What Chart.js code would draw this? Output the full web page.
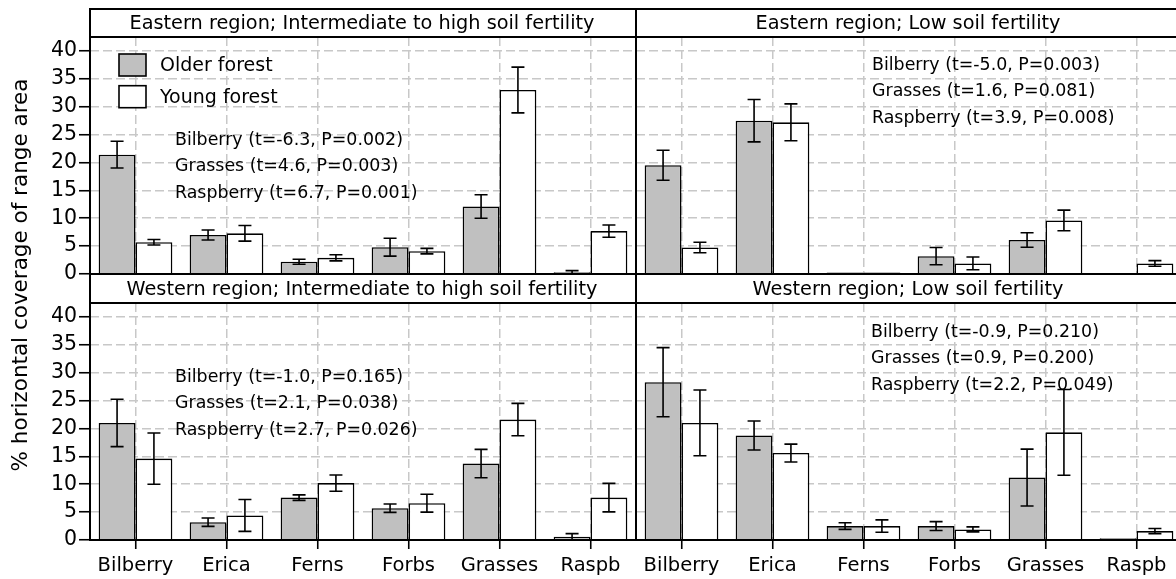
<!DOCTYPE html>
<html>
<head>
<meta charset="utf-8">
<title>Ground vegetation cover by forest age</title>
<script src="https://cdn.jsdelivr.net/npm/chart.js@4.4.1/dist/chart.umd.min.js"></script>
<style>
  html, body { margin: 0; padding: 0; background: #fff; overflow: hidden; }
  #stage { position: relative; width: 1176px; height: 579px; overflow: hidden; }
  .panel { position: absolute; left: 0; top: 0; width: 1190px; height: 579px; }
</style>
</head>
<body>
<div id="stage">
  <div class="panel"><canvas id="eastHigh"></canvas></div>
  <div class="panel"><canvas id="eastLow"></canvas></div>
  <div class="panel"><canvas id="westHigh"></canvas></div>
  <div class="panel"><canvas id="westLow"></canvas></div>
</div>
<script>
const CATEGORIES = ['Bilberry', 'Erica', 'Ferns', 'Forbs', 'Grasses', 'Raspb'];
const SERIES_LABELS = ['Older forest', 'Young forest'];
const Y_TICKS = [0, 5, 10, 15, 20, 25, 30, 35, 40];
const Y_TITLE = '% horizontal coverage of range area';

// Eastern region, intermediate to high soil fertility
const EAST_HIGH_OLDER = [21.4, 7.0, 2.2, 4.8, 12.1, 0.3];
const EAST_HIGH_OLDER_SE = [2.4, 0.9, 0.45, 1.6, 2.1, 0.3];
const EAST_HIGH_YOUNG = [5.7, 7.3, 2.9, 4.1, 33.0, 7.7];
const EAST_HIGH_YOUNG_SE = [0.5, 1.4, 0.55, 0.5, 4.1, 1.1];
const EAST_HIGH_TESTS = ['Bilberry (t=-6.3, P=0.002)', 'Grasses (t=4.6, P=0.003)', 'Raspberry (t=6.7, P=0.001)'];

// Eastern region, low soil fertility
const EAST_LOW_OLDER = [19.5, 27.5, 0.25, 3.2, 6.1, 0.1];
const EAST_LOW_OLDER_SE = [2.7, 3.8, 0, 1.55, 1.3, 0];
const EAST_LOW_YOUNG = [4.75, 27.2, 0.25, 1.9, 9.6, 1.9];
const EAST_LOW_YOUNG_SE = [0.95, 3.3, 0, 1.15, 1.85, 0.5];
const EAST_LOW_TESTS = ['Bilberry (t=-5.0, P=0.003)', 'Grasses (t=1.6, P=0.081)', 'Raspberry (t=3.9, P=0.008)'];

// Western region, intermediate to high soil fertility
const WEST_HIGH_OLDER = [21.0, 3.2, 7.6, 5.7, 13.7, 0.6];
const WEST_HIGH_OLDER_SE = [4.25, 0.75, 0.5, 0.75, 2.55, 0.55];
const WEST_HIGH_YOUNG = [14.6, 4.4, 10.2, 6.6, 21.6, 7.6];
const WEST_HIGH_YOUNG_SE = [4.6, 2.85, 1.45, 1.6, 2.9, 2.55];
const WEST_HIGH_TESTS = ['Bilberry (t=-1.0, P=0.165)', 'Grasses (t=2.1, P=0.038)', 'Raspberry (t=2.7, P=0.026)'];

// Western region, low soil fertility
const WEST_LOW_OLDER = [28.3, 18.75, 2.5, 2.5, 11.2, 0.3];
const WEST_LOW_OLDER_SE = [6.2, 2.6, 0.6, 0.8, 5.1, 0];
const WEST_LOW_YOUNG = [21.0, 15.6, 2.5, 1.9, 19.3, 1.6];
const WEST_LOW_YOUNG_SE = [5.9, 1.6, 1.1, 0.45, 7.7, 0.45];
const WEST_LOW_TESTS = ['Bilberry (t=-0.9, P=0.210)', 'Grasses (t=0.9, P=0.200)', 'Raspberry (t=2.2, P=0.049)'];

const CANVAS_W = 1190;
const CANVAS_H = 579;
const FONT = "'DejaVu Sans', Verdana, sans-serif";
const GRID = '#c8c8c8';
const CAP = 6.5;
const Y_MAX = 42.5;

Chart.defaults.font.family = FONT;
Chart.defaults.color = '#000';

const PANELS = [
    {
        id: 'eastHigh', title: 'Eastern region; Intermediate to high soil fertility',
        older: EAST_HIGH_OLDER, olderSe: EAST_HIGH_OLDER_SE, young: EAST_HIGH_YOUNG, youngSe: EAST_HIGH_YOUNG_SE,
        tests: EAST_HIGH_TESTS, testsAt: { x: 85, y: 103 },
        rect: { left: 90, right: 636, top: 37, bottom: 274 }, stripTop: 9,
        yLabels: true, xLabels: false, legend: true, yTitle: false
    },
    {
        id: 'eastLow', title: 'Eastern region; Low soil fertility',
        older: EAST_LOW_OLDER, olderSe: EAST_LOW_OLDER_SE, young: EAST_LOW_YOUNG, youngSe: EAST_LOW_YOUNG_SE,
        tests: EAST_LOW_TESTS, testsAt: { x: 236, y: 28 },
        rect: { left: 636, right: 1182, top: 37, bottom: 274 }, stripTop: 9,
        yLabels: false, xLabels: false, legend: false, yTitle: false
    },
    {
        id: 'westHigh', title: 'Western region; Intermediate to high soil fertility',
        older: WEST_HIGH_OLDER, olderSe: WEST_HIGH_OLDER_SE, young: WEST_HIGH_YOUNG, youngSe: WEST_HIGH_YOUNG_SE,
        tests: WEST_HIGH_TESTS, testsAt: { x: 85, y: 74 },
        rect: { left: 90, right: 636, top: 303, bottom: 540 }, stripTop: 274,
        yLabels: true, xLabels: true, legend: false, yTitle: true
    },
    {
        id: 'westLow', title: 'Western region; Low soil fertility',
        older: WEST_LOW_OLDER, olderSe: WEST_LOW_OLDER_SE, young: WEST_LOW_YOUNG, youngSe: WEST_LOW_YOUNG_SE,
        tests: WEST_LOW_TESTS, testsAt: { x: 235, y: 29 },
        rect: { left: 636, right: 1182, top: 303, bottom: 540 }, stripTop: 274,
        yLabels: false, xLabels: true, legend: false, yTitle: false
    }
];

// mean +/- SE whiskers on top of each bar
const errorBars = {
    id: 'errorBars',
    afterDatasetsDraw(chart) {
        const ctx = chart.ctx;
        const y = chart.scales.y;
        ctx.save();
        ctx.strokeStyle = '#000';
        ctx.lineWidth = 1.6;
        chart.data.datasets.forEach((ds, di) => {
            chart.getDatasetMeta(di).data.forEach((bar, i) => {
                const e = ds.errors[i];
                if (!e) return;
                const top = y.getPixelForValue(ds.data[i] + e);
                const bot = y.getPixelForValue(Math.max(0, ds.data[i] - e));
                ctx.beginPath();
                ctx.moveTo(bar.x, top); ctx.lineTo(bar.x, bot);
                ctx.moveTo(bar.x - CAP, top); ctx.lineTo(bar.x + CAP, top);
                ctx.moveTo(bar.x - CAP, bot); ctx.lineTo(bar.x + CAP, bot);
                ctx.stroke();
            });
        });
        ctx.restore();
    }
};

// title strip, panel frame, t-test notes, legend and the shared y title
const panelDecor = {
    id: 'panelDecor',
    afterDraw(chart, args, opts) {
        const p = opts.panel;
        const ctx = chart.ctx;
        const a = chart.chartArea;
        ctx.save();

        ctx.fillStyle = '#fff';
        ctx.fillRect(a.left, p.stripTop, a.right - a.left, a.top - p.stripTop);
        ctx.fillStyle = '#000';
        ctx.font = `19.3px ${FONT}`;
        ctx.textAlign = 'center';
        ctx.textBaseline = 'middle';
        ctx.fillText(p.title, (a.left + a.right) / 2 - 1, (p.stripTop + a.top) / 2 + 1);

        ctx.strokeStyle = '#000';
        ctx.lineWidth = 2;
        ctx.strokeRect(a.left, p.stripTop, a.right - a.left, a.bottom - p.stripTop);
        ctx.beginPath();
        ctx.moveTo(a.left, a.top);
        ctx.lineTo(a.right, a.top);
        ctx.stroke();

        ctx.font = `17.4px ${FONT}`;
        ctx.textAlign = 'left';
        p.tests.forEach((line, i) => {
            ctx.fillText(line, a.left + p.testsAt.x, a.top + p.testsAt.y + i * 26.7);
        });

        if (p.legend) {
            ctx.font = `19px ${FONT}`;
            ctx.lineWidth = 1.6;
            chart.data.datasets.forEach((ds, i) => {
                const bx = a.left + 29;
                const by = a.top + 17 + i * 31.7;
                ctx.fillStyle = ds.backgroundColor;
                ctx.fillRect(bx, by, 27, 22);
                ctx.strokeRect(bx, by, 27, 22);
                ctx.fillStyle = '#000';
                ctx.fillText(ds.label, bx + 41, by + 12);
            });
        }

        if (p.yTitle) {
            ctx.font = `21.5px ${FONT}`;
            ctx.textAlign = 'center';
            ctx.translate(21, 275);
            ctx.rotate(-Math.PI / 2);
            ctx.fillText(Y_TITLE, 0, 0);
        }
        ctx.restore();
    }
};

function makeChart(p) {
    const yw = p.yLabels ? 50 : 0;
    const xh = p.xLabels ? 39 : 0;
    return new Chart(document.getElementById(p.id), {
        type: 'bar',
        data: {
            labels: CATEGORIES,
            datasets: [
                {
                    label: SERIES_LABELS[0],
                    data: p.older,
                    errors: p.olderSe,
                    backgroundColor: '#c0c0c0',
                    borderColor: '#000',
                    borderWidth: 1.6
                },
                {
                    label: SERIES_LABELS[1],
                    data: p.young,
                    errors: p.youngSe,
                    backgroundColor: '#ffffff',
                    borderColor: '#000',
                    borderWidth: 1.6
                }
            ]
        },
        options: {
            responsive: true,
            maintainAspectRatio: false,
            animation: false,
            events: [],
            datasets: { bar: { categoryPercentage: 0.81, barPercentage: 1.0 } },
            layout: {
                padding: {
                    left: p.rect.left - yw,
                    right: CANVAS_W - p.rect.right,
                    top: p.rect.top,
                    bottom: CANVAS_H - p.rect.bottom - xh
                }
            },
            plugins: {
                legend: { display: false },
                tooltip: { enabled: false },
                panelDecor: { panel: p }
            },
            scales: {
                x: {
                    grid: {
                        offset: false,
                        color: GRID,
                        lineWidth: 1.5,
                        drawTicks: p.xLabels,
                        tickLength: 9,
                        tickColor: '#000',
                        tickWidth: 1.6,
                        tickBorderDash: []
                    },
                    border: { display: false, dash: [9, 4] },
                    ticks: {
                        display: p.xLabels,
                        color: '#000',
                        font: { size: 19.5 },
                        padding: 5,
                        maxRotation: 0,
                        autoSkip: false
                    },
                    afterFit: s => { s.height = xh; }
                },
                y: {
                    min: 0,
                    max: Y_MAX,
                    afterBuildTicks: s => { s.ticks = Y_TICKS.map(v => ({ value: v })); },
                    grid: {
                        color: GRID,
                        lineWidth: 1.5,
                        drawTicks: p.yLabels,
                        tickLength: 11,
                        tickColor: '#000',
                        tickWidth: 1.6,
                        tickBorderDash: []
                    },
                    border: { display: false, dash: [9, 4] },
                    ticks: {
                        display: p.yLabels,
                        color: '#000',
                        font: { size: 20.5 },
                        padding: 2
                    },
                    afterFit: s => { s.width = yw; }
                }
            }
        },
        plugins: [errorBars, panelDecor]
    });
}

PANELS.forEach(makeChart);
</script>
</body>
</html>
